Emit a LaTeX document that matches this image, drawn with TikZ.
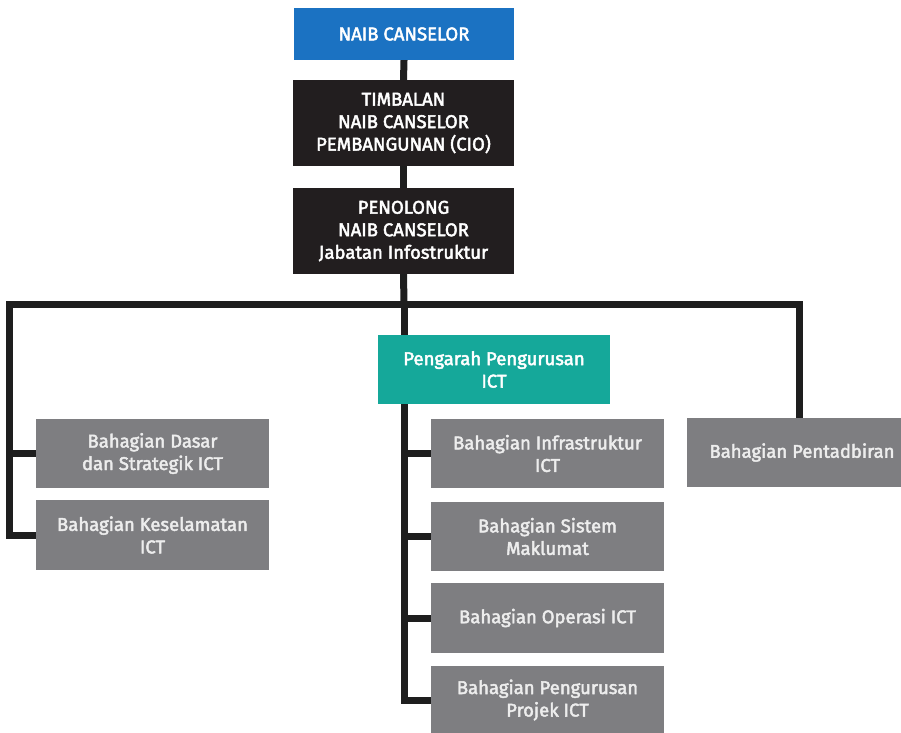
\documentclass[tikz,border=0pt]{standalone}
\usepackage{fontspec}
\setmainfont{Fira Sans}
\newfontfamily\boxfont{Fira Sans}[RawFeature={embolden=2.5}]
\usetikzlibrary{backgrounds}
\definecolor{ncblue}{HTML}{1B72C2}
\definecolor{boxblack}{HTML}{221E1F}
\definecolor{teal}{HTML}{15A89A}
\definecolor{boxgray}{HTML}{7E7E81}
\definecolor{linec}{HTML}{1E1E1E}
\begin{document}
\begin{tikzpicture}[x=1pt,y=-1pt,
  box/.style={draw=none,minimum width=233pt,minimum height=69pt,inner sep=2pt,
    align=center,text=white,font=\boxfont\fontsize{18.5}{22.5}\selectfont},
  topbox/.style={box,minimum width=221pt,minimum height=86pt,fill=boxblack},
  graybox/.style={box,fill=boxgray,text=white!93!black},
  conn/.style={draw=linec,line width=7pt,line cap=rect,line join=miter}]
\useasboundingbox (0,0) rectangle (901,732);
\node[topbox,fill=ncblue,minimum height=52pt,minimum width=220pt] (nc) at (404,34) {NAIB CANSELOR};
\node[topbox] (tnc) at (403.5,123) {TIMBALAN\\NAIB CANSELOR\\PEMBANGUNAN (CIO)};
\node[topbox] (pnc) at (403.5,231) {PENOLONG\\NAIB CANSELOR\\Jabatan Infostruktur};
\node[box,fill=teal,minimum width=232pt] (pp) at (494,369.5) {Pengarah Pengurusan\\ICT};
\node[graybox] (bd) at (152.5,453.5) {Bahagian Dasar\\dan Strategik ICT};
\node[graybox,minimum height=70pt] (bk) at (152.5,535) {Bahagian Keselamatan\\ICT};
\node[graybox] (bi) at (547.5,453.5) {Bahagian Infrastruktur\\ICT};
\node[graybox] (bs) at (547.5,536.5) {Bahagian Sistem\\Maklumat};
\node[graybox,minimum height=70pt] (bo) at (547.5,618) {Bahagian Operasi ICT};
\node[graybox] (bpp) at (547.5,700) {Bahagian Pengurusan\\Projek ICT};
\node[graybox,minimum width=230pt] (bpt) at (802,452.5) {Bahagian Pentadbiran};
\coordinate (hub) at (404,304);
\coordinate (lt) at (9,304);
\coordinate (rt) at (799,304);
\begin{scope}[on background layer]
\draw[conn] (nc.south) -- (tnc.north);
\draw[conn] (tnc.south) -- (pnc.north);
\draw[conn] (pnc.south) -- (hub);
\draw[conn] (lt) -- (rt);
\draw[conn] (lt) |- (bk.west);
\draw[conn] (lt |- bd.west) -- (bd.west);
\draw[conn] (rt) -- (rt |- bpt.north);
\draw[conn] (hub) -- (hub |- pp.north);
\draw[conn] (hub |- pp.south) |- (bpp.west);
\draw[conn] (hub |- bi.west) -- (bi.west);
\draw[conn] (hub |- bs.west) -- (bs.west);
\draw[conn] (hub |- bo.west) -- (bo.west);
\end{scope}
\end{tikzpicture}
\end{document}
